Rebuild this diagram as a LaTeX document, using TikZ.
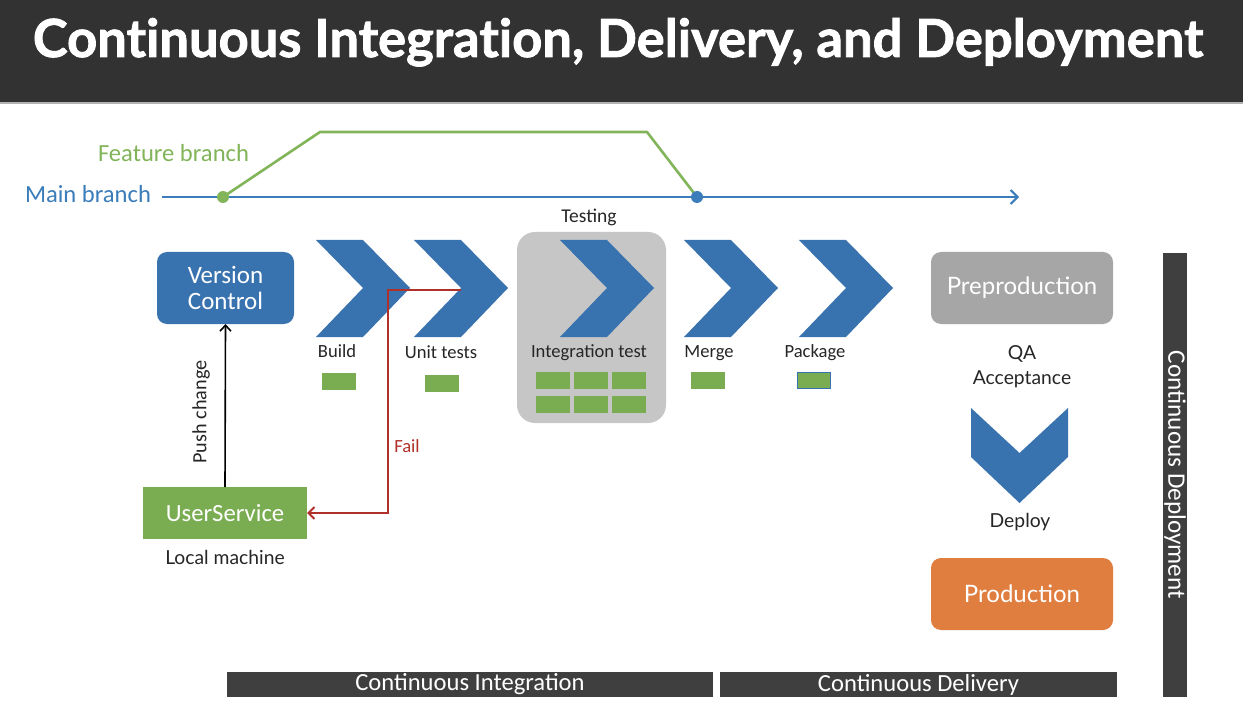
\documentclass[tikz,border=0pt]{standalone}
\usepackage{fontspec}
\setmainfont{Carlito}
\newfontfamily\avenir{Lato}
\newfontfamily\titlefont{Lato}[Ligatures=NoCommon, BoldFeatures={FakeBold=1.6}]
\usetikzlibrary{arrows.meta}

\definecolor{titlebg}{HTML}{323232}
\definecolor{flowblue}{HTML}{3873B0}
\definecolor{branchblue}{HTML}{3A7DBA}
\definecolor{branchgreen}{HTML}{82B55A}
\definecolor{taskgreen}{HTML}{7AAD52}
\definecolor{testgray}{HTML}{C6C6C6}
\definecolor{preprod}{HTML}{A6A6A6}
\definecolor{prodorange}{HTML}{DF7E3F}
\definecolor{failred}{HTML}{B0302A}
\definecolor{barbg}{HTML}{3F3F3F}
\definecolor{labeltext}{HTML}{262626}

\newcommand\fs[1]{\fontsize{#1}{#1}\selectfont}

\begin{document}
\begin{tikzpicture}[x=1pt,y=-1pt,
  every node/.style={inner sep=0pt, outer sep=0pt},
  envbox/.style={rounded corners=10pt, minimum width=182pt, minimum height=72pt,
    text=white, font=\avenir\fs{24}},
  task/.style={fill=taskgreen, minimum width=34pt, minimum height=17pt},
  steplabel/.style={anchor=base, text=labeltext, font=\fs{18.6}},
  sidelabel/.style={anchor=base, text=labeltext, font=\avenir\fs{19.3}},
  phasebar/.style={fill=barbg, text=white, font=\fs{24.6}},
  chevron/.pic={\fill[flowblue] (0,0) -- (47,0) -- (94,48) -- (47,97) -- (0,97) -- (47,48) -- cycle;},
  branchline/.style={line width=2.6pt}
]
\useasboundingbox (0,0) rectangle (1243,714);
\fill[white] (0,0) rectangle (1243,714);

% title bar
\fill[titlebg] (0,0) rectangle (1243,102);
\fill[gray!60] (0,102) rectangle (1243,104);
\node[anchor=base, text=white, font=\titlefont\bfseries\fs{52.5}] (title) at (618,57)
  {Continuous Integration, Delivery, and Deployment};

% branches
\coordinate (mainstart) at (162,197);
\coordinate (mainend) at (1019,197);
\coordinate (fork) at (223,197);
\coordinate (merge) at (697,197);
\draw[branchblue, branchline, -{Straight Barb[length=7pt,width=14pt,line width=2pt]}] (mainstart) -- (mainend);
\draw[branchgreen, branchline, line join=round] (fork) -- (320,132) -- (647,132) -- (merge);
\fill[branchgreen] (fork) circle (6pt);
\fill[branchblue] (merge) circle (6pt);
\node[anchor=base west, text=branchblue, font=\fs{24.6}] (mainlbl) at (25,203) {Main branch};
\node[anchor=base west, text=branchgreen, font=\fs{24.6}] (featlbl) at (98,162) {Feature branch};

% testing stage background
\node[steplabel, font=\fs{19.5}] (testinglbl) at (589,223) {Testing};
\fill[testgray] (517,232) [rounded corners=18pt] rectangle (666,423);

% version control
\node[fill=flowblue, rounded corners=10pt, minimum width=137pt, minimum height=72pt,
  text=white, align=center, font=\fs{25}] (vc) at (225.5,288) {Version\\[1pt]Control};

% pipeline chevrons
\pic at (316,240) {chevron};
\pic at (414,240) {chevron};
\pic at (560,240) {chevron};
\pic at (684,240) {chevron};
\pic at (799,240) {chevron};
\coordinate (unitnotch) at (461,290);
\coordinate (failbend) at (388,290);

\node[steplabel] (buildlbl) at (337,357) {Build};
\node[steplabel] (unitlbl) at (441,358) {Unit tests};
\node[steplabel] (intlbl) at (589,357) {Integration test};
\node[steplabel] (mergelbl) at (709,357) {Merge};
\node[steplabel] (packlbl) at (815,357) {Package};

\node[task] (buildtask) at (339,381.5) {};
\node[task] (unittask) at (442,383) {};
\node[task] (int1) at (552.5,380.5) {};
\node[task] (int2) at (591,380.5) {};
\node[task] (int3) at (629,380.5) {};
\node[task] (int4) at (552.5,404.5) {};
\node[task] (int5) at (591,404.5) {};
\node[task] (int6) at (629,404.5) {};
\node[task] (mergetask) at (707.5,380) {};
\node[task, draw=flowblue, line width=1.5pt, minimum width=33pt, minimum height=16pt] (packtask) at (814,380.5) {};

% local machine
\node[fill=taskgreen, minimum width=164pt, minimum height=52pt, text=white, font=\fs{24.7}]
  (user) at (225,513) {UserService};
\node[sidelabel] (locallbl) at (225,564) {Local machine};

% push change
\draw[line width=1.6pt, -{Straight Barb[length=6pt,width=11pt,line width=1.6pt]}] (user.north) -- (vc.south);
\node[rotate=90, text=labeltext, font=\fs{20.2}] (pushlbl) at (201,412) {Push change};

% fail loop
\draw[failred, line width=2pt, -{Straight Barb[length=6pt,width=12pt,line width=2pt]}]
  (unitnotch) -- (failbend) |- (user.east);
\node[anchor=base, text=failred, font=\fs{18.6}] (faillbl) at (407,452) {Fail};

% environments
\node[envbox, fill=preprod] (preprod) at (1022,288) {Preproduction};
\node[sidelabel] (qalbl) at (1022,359) {QA};
\node[sidelabel] (acclbl) at (1022,384) {Acceptance};
\fill[flowblue] (971,408) -- (1019.5,453) -- (1068,408) -- (1068,457) -- (1019.5,503) -- (971,457) -- cycle;
\node[sidelabel] (deploylbl) at (1020,527) {Deploy};
\node[envbox, fill=prodorange] (prod) at (1022,594) {Production};

% phase bars
\node[phasebar, minimum width=486pt, minimum height=25pt] (cibar) at (470,684.5) {Continuous Integration};
\node[phasebar, minimum width=397pt, minimum height=25pt] (cdbar) at (918.5,684.5) {Continuous Delivery};
\node[phasebar, rotate=-90, minimum width=444pt, minimum height=24pt, font=\fs{25.2}] (cdepbar) at (1175,475) {Continuous Deployment};
\end{tikzpicture}
\end{document}
